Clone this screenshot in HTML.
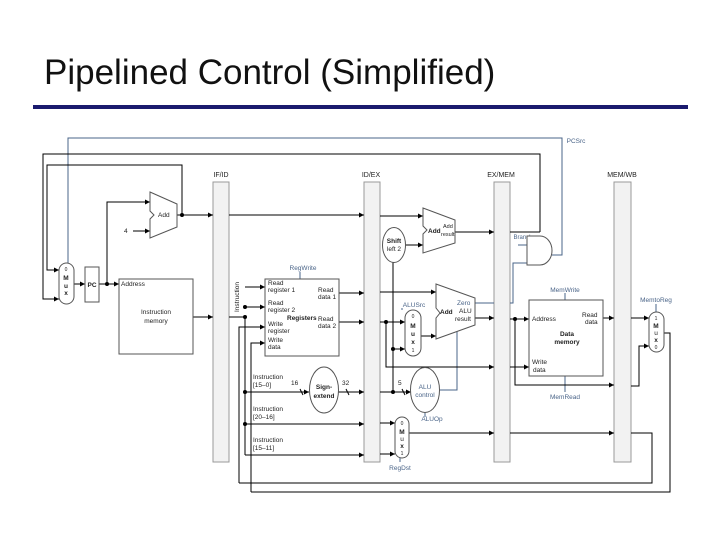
<!DOCTYPE html>
<html><head><meta charset="utf-8"><style>
body{margin:0;background:#fff;}
svg{display:block;font-family:"Liberation Sans",sans-serif;}
</style></head><body>
<svg width="720" height="540" viewBox="0 0 720 540" xmlns="http://www.w3.org/2000/svg">
<defs>
<marker id="a" markerWidth="6" markerHeight="6" refX="5" refY="3" orient="auto" markerUnits="userSpaceOnUse"><path d="M0,0.5 L5,3 L0,5.5z" fill="#000"/></marker>
</defs>
<text x="44" y="84" font-size="35" fill="#111">Pipelined Control (Simplified)</text>
<rect x="33" y="105" width="655" height="4" fill="#1a1a6e"/>

<g fill="#f2f2f2" stroke="#999" stroke-width="1">
<rect x="213" y="182" width="16" height="280"/>
<rect x="364" y="182" width="16" height="280"/>
<rect x="494" y="182" width="16" height="280"/>
<rect x="614" y="182" width="17" height="280"/>
</g>
<g font-size="7" fill="#222" text-anchor="middle">
<text x="221" y="177">IF/ID</text><text x="371" y="177">ID/EX</text>
<text x="501" y="177">EX/MEM</text><text x="622" y="177">MEM/WB</text>
</g>

<g fill="none" stroke="#4a6488" stroke-width="1">
<path d="M68,263 V138 H562 V255 H552"/>
<path d="M518,245 H527"/>
<path d="M475,303 H494 M510,303 H513 V263 H527"/>
<path d="M457,330 V390 H440"/>
<path d="M300,272 V279 M565,293 V300 M565,376 V392 M425,413 V417 M402,308 V310 M656,304 V312 M400,458 V462"/>
</g>
<g font-size="6.5" fill="#4a6488" text-anchor="middle">
<text x="576" y="143">PCSrc</text><text x="523" y="239" font-size="6">Branch</text>
<text x="303" y="270">RegWrite</text><text x="565" y="292">MemWrite</text>
<text x="565" y="399">MemRead</text><text x="414" y="307">ALUSrc</text>
<text x="432" y="421">ALUOp</text><text x="400" y="470">RegDst</text>
<text x="656" y="302">MemtoReg</text>
</g>

<g fill="none" stroke="#000" stroke-width="1">
<path d="M540,232 V154 H43 V299 H59" marker-end="url(#a)"/>
<path d="M182,215 V165 H47 V270 H59" marker-end="url(#a)"/>
<path d="M74,284 H85" marker-end="url(#a)"/>
<path d="M99,284 H119" marker-end="url(#a)"/>
<path d="M107,284 V202 H150" marker-end="url(#a)"/>
<path d="M133,231 H150" marker-end="url(#a)"/>
<path d="M177,215 H213" marker-end="url(#a)"/>
<path d="M229,215 H364" marker-end="url(#a)"/>
<path d="M193,317 H213" marker-end="url(#a)"/>
<path d="M229,317 H245 V455"/>
<path d="M245,287 H265" marker-end="url(#a)"/>
<path d="M245,307 H265" marker-end="url(#a)"/>
<path d="M239,483 V327 H265" marker-end="url(#a)"/>
<path d="M251,492 V343 H265" marker-end="url(#a)"/>
<path d="M339,293 H364" marker-end="url(#a)"/>
<path d="M339,322 H364" marker-end="url(#a)"/>
<path d="M245,392 H309" marker-end="url(#a)"/>
<path d="M338,392 H364" marker-end="url(#a)"/>
<path d="M245,424 H364" marker-end="url(#a)"/>
<path d="M245,455 H364" marker-end="url(#a)"/>
<path d="M380,216 H423" marker-end="url(#a)"/>
<path d="M405,245 H423" marker-end="url(#a)"/>
<path d="M455,232 H494" marker-end="url(#a)"/>
<path d="M510,232 H540"/>
<path d="M380,292 H436" marker-end="url(#a)"/>
<path d="M380,322 H405" marker-end="url(#a)"/>
<path d="M386,322 V367 H494" marker-end="url(#a)"/>
<path d="M380,392 H411" marker-end="url(#a)"/>
<path d="M393,262 V392"/>
<path d="M393,349 H405" marker-end="url(#a)"/>
<path d="M421,336 H436" marker-end="url(#a)"/>
<path d="M475,318 H494" marker-end="url(#a)"/>
<path d="M380,423 H395" marker-end="url(#a)"/>
<path d="M380,454 H395" marker-end="url(#a)"/>
<path d="M409,433 H494" marker-end="url(#a)"/>
<path d="M510,433 H614" marker-end="url(#a)"/>
<path d="M510,319 H529" marker-end="url(#a)"/>
<path d="M510,367 H529" marker-end="url(#a)"/>
<path d="M515,319 V385 H614" marker-end="url(#a)"/>
<path d="M603,318 H614" marker-end="url(#a)"/>
<path d="M631,318 H649" marker-end="url(#a)"/>
<path d="M631,386 H639 V346 H649" marker-end="url(#a)"/>
<path d="M631,433 H652 V483 H239"/>
<path d="M664,333 H670 V492 H251"/>
<path d="M300,389 l3,6 M346,389 l3,6 M402,389 l3,6"/>
</g>
<g fill="#000">
<circle cx="107" cy="284" r="2"/><circle cx="182" cy="215" r="2"/>
<circle cx="245" cy="317" r="2"/><circle cx="245" cy="307" r="2"/>
<circle cx="245" cy="392" r="2"/><circle cx="245" cy="424" r="2"/>
<circle cx="386" cy="322" r="2"/><circle cx="393" cy="349" r="2"/>
<circle cx="393" cy="392" r="2"/><circle cx="515" cy="319" r="2"/>
</g>

<g fill="#fff" stroke="#555" stroke-width="1">
<rect x="59" y="263" width="15" height="41" rx="7.5"/>
<rect x="85" y="267" width="14" height="35"/>
<path d="M150,192 L177,204 V227 L150,238 V219 L154,215 L150,211 Z"/>
<rect x="119" y="279" width="74" height="75"/>
<rect x="265" y="279" width="74" height="77"/>
<ellipse cx="324" cy="390" rx="14.5" ry="23"/>
<path d="M423,208 L455,220 V243 L423,253 V234 L427,230 L423,226 Z"/>
<ellipse cx="394" cy="245" rx="11.5" ry="17.5"/>
<path d="M527,236 H540 A12,14.5 0 0 1 540,265 H527 Z"/>
<path d="M436,284 L475,298 V325 L436,339 V318 L440,313 L436,308 Z"/>
<rect x="405" y="310" width="16" height="46" rx="8"/>
<ellipse cx="425" cy="390" rx="14.5" ry="22.5"/>
<rect x="395" y="417" width="14" height="41" rx="7"/>
<rect x="529" y="300" width="74" height="76"/>
<rect x="649" y="312" width="15" height="40" rx="7.5"/>
</g>

<g font-size="6.5" fill="#222">
<text x="66" y="271" text-anchor="middle" font-size="5">0</text>
<text x="66" y="280" text-anchor="middle" font-weight="bold">M</text>
<text x="66" y="288" text-anchor="middle" font-weight="bold">u</text>
<text x="66" y="295" text-anchor="middle" font-weight="bold">x</text>
<text x="92" y="287" text-anchor="middle" font-weight="bold">PC</text>
<text x="158" y="217">Add</text>
<text x="124" y="233">4</text>
<text x="121" y="286">Address</text>
<text x="156" y="314" text-anchor="middle">Instruction</text>
<text x="156" y="323" text-anchor="middle">memory</text>
<text transform="translate(239,312) rotate(-90)">Instruction</text>
<text x="268" y="285">Read</text><text x="268" y="292">register 1</text>
<text x="268" y="305">Read</text><text x="268" y="312">register 2</text>
<text x="268" y="326">Write</text><text x="268" y="333">register</text>
<text x="268" y="342">Write</text><text x="268" y="349">data</text>
<text x="318" y="292">Read</text><text x="318" y="299">data 1</text>
<text x="318" y="321">Read</text><text x="318" y="328">data 2</text>
<text x="287" y="320" font-weight="bold">Registers</text>
<text x="253" y="379">Instruction</text><text x="253" y="387">[15–0]</text>
<text x="253" y="411">Instruction</text><text x="253" y="419">[20–16]</text>
<text x="253" y="442">Instruction</text><text x="253" y="450">[15–11]</text>
<text x="291" y="385">16</text><text x="342" y="385">32</text><text x="398" y="385">5</text>
<text x="324" y="389" text-anchor="middle" font-weight="bold">Sign-</text>
<text x="324" y="398" text-anchor="middle" font-weight="bold">extend</text>
<text x="394" y="243" text-anchor="middle" font-weight="bold">Shift</text>
<text x="394" y="251" text-anchor="middle">left 2</text>
<text x="428" y="233" font-weight="bold">Add</text>
<text x="443" y="228" font-size="5.5">Add</text><text x="441" y="236" font-size="5.5">result</text>
<text x="440" y="314" font-weight="bold">Add</text>
<text x="457" y="305" fill="#4a6488">Zero</text>
<text x="459" y="313">ALU</text><text x="455" y="321">result</text>
<text x="413" y="318" text-anchor="middle" font-size="5">0</text>
<text x="413" y="328" text-anchor="middle" font-weight="bold">M</text>
<text x="413" y="336" text-anchor="middle" font-weight="bold">u</text>
<text x="413" y="344" text-anchor="middle" font-weight="bold">x</text>
<text x="413" y="352" text-anchor="middle" font-size="5">1</text>
<text x="425" y="389" text-anchor="middle" fill="#4a6488">ALU</text>
<text x="425" y="397" text-anchor="middle" fill="#4a6488">control</text>
<text x="402" y="425" text-anchor="middle" font-size="5">0</text>
<text x="402" y="434" text-anchor="middle" font-weight="bold">M</text>
<text x="402" y="441" text-anchor="middle">u</text>
<text x="402" y="448" text-anchor="middle" font-weight="bold">x</text>
<text x="402" y="455" text-anchor="middle" font-size="5">1</text>
<text x="532" y="321">Address</text>
<text x="582" y="317">Read</text><text x="585" y="324">data</text>
<text x="567" y="336" text-anchor="middle" font-weight="bold">Data</text>
<text x="567" y="344" text-anchor="middle" font-weight="bold">memory</text>
<text x="532" y="364">Write</text><text x="533" y="372">data</text>
<text x="656" y="320" text-anchor="middle" font-size="5">1</text>
<text x="656" y="328" text-anchor="middle" font-weight="bold">M</text>
<text x="656" y="335" text-anchor="middle">u</text>
<text x="656" y="342" text-anchor="middle" font-weight="bold">x</text>
<text x="656" y="349" text-anchor="middle" font-size="5">0</text>
</g>
</svg>
</body></html>
